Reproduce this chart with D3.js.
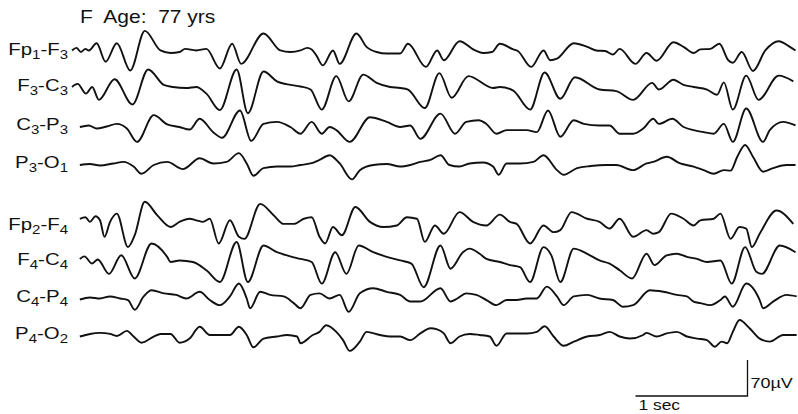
<!DOCTYPE html>
<html>
<head>
<meta charset="utf-8">
<script src="https://cdn.jsdelivr.net/npm/d3@7"></script>
<style>
  body { margin: 0; background: #fff; }
  svg { display: block; font-family: "Liberation Sans", Arial, sans-serif; }
</style>
</head>
<body>
<svg width="798" height="414"></svg>
<script>
// time in sec, amplitude in uV (positive = up)
var fp1F3 = [[0.00,3],[0.04,8],[0.08,0],[0.12,6],[0.15,3],[0.22,17],[0.30,-19],[0.40,17],[0.52,-36],[0.65,41],
  [0.79,3],[0.88,-2],[0.96,0],[1.01,6],[1.11,3],[1.20,6],[1.32,-32],[1.43,16],[1.51,-23],[1.71,36],
  [1.86,3],[1.95,0],[2.04,3],[2.10,8],[2.14,5],[2.18,-6],[2.24,-26],[2.33,3],[2.39,-23],[2.54,36],
  [2.63,10],[2.72,0],[2.81,-3],[2.93,-3],[3.00,16],[3.16,-29],[3.26,3],[3.32,-16],[3.46,21],[3.60,3],
  [3.67,-2],[3.75,0],[3.82,16],[3.94,5],[3.98,2],[4.10,-29],[4.21,3],[4.27,-16],[4.33,-13],[4.48,17],
  [4.60,10],[4.68,3],[4.76,2],[4.83,-5],[4.89,6],[5.03,-23],[5.13,-2],[5.22,-17],[5.37,19],[5.46,10],
  [5.55,-2],[5.61,5],[5.70,6],[5.78,16],[5.86,-16],[5.90,-21],[5.98,0],[6.08,-37],[6.19,3],[6.31,21],
  [6.41,10],[6.46,3]];

var f3C3 = [[0.00,2],[0.05,8],[0.125,-11],[0.18,2],[0.24,-23],[0.38,17],[0.54,-32],[0.68,36],[0.82,6],[0.90,2],
  [1.02,0],[1.11,2],[1.20,-11],[1.32,-43],[1.47,36],[1.57,-49],[1.71,32],[1.83,13],[1.95,6],[2.04,3],
  [2.13,-3],[2.23,-42],[2.36,23],[2.47,-26],[2.60,26],[2.72,10],[2.84,2],[2.93,0],[3.00,-3],[3.15,-39],
  [3.28,29],[3.39,-19],[3.54,23],[3.76,0],[3.82,2],[3.94,-5],[4.09,-42],[4.22,30],[4.36,-21],[4.49,21],
  [4.71,-3],[4.86,-6],[5.01,-23],[5.18,10],[5.24,-3],[5.37,16],[5.46,6],[5.55,2],[5.67,-3],[5.76,-13],
  [5.82,11],[5.90,-42],[6.02,24],[6.13,-23],[6.31,24],[6.44,13]];

var c3P3 = [[0.07,0],[0.15,3],[0.22,-3],[0.31,1],[0.40,6],[0.49,-3],[0.58,-29],[0.73,23],[0.85,5],[0.96,0],
  [1.05,-5],[1.14,16],[1.26,-10],[1.34,-21],[1.50,32],[1.60,-27],[1.71,6],[1.83,10],[1.95,0],[2.04,-13],
  [2.14,10],[2.23,-13],[2.30,0],[2.36,-6],[2.48,-29],[2.66,19],[2.81,10],[2.93,0],[3.02,3],[3.11,-23],
  [3.29,26],[3.42,-13],[3.52,10],[3.63,13],[3.70,6],[3.79,-13],[3.88,-6],[4.06,-6],[4.15,-10],[4.25,32],
  [4.36,-19],[4.48,13],[4.57,6],[4.71,3],[4.80,3],[4.89,-13],[5.01,-13],[5.10,-3],[5.19,16],[5.24,6],
  [5.36,16],[5.46,0],[5.55,-6],[5.64,-10],[5.73,-13],[5.82,6],[5.90,-29],[6.02,36],[6.17,-29],[6.23,-6],
  [6.35,10],[6.46,3]];

var p3O1 = [[0.07,0],[0.16,2],[0.25,-1],[0.37,3],[0.46,6],[0.55,-3],[0.62,-17],[0.73,0],[0.85,6],[0.99,-8],
  [1.14,13],[1.26,3],[1.38,6],[1.49,23],[1.56,3],[1.62,-21],[1.71,-6],[1.83,-3],[1.95,-3],[2.04,0],
  [2.13,3],[2.21,10],[2.30,19],[2.39,3],[2.50,-28],[2.57,-10],[2.69,0],[2.81,2],[2.93,-3],[3.02,0],
  [3.11,6],[3.20,10],[3.29,19],[3.37,0],[3.46,-3],[3.55,3],[3.67,5],[3.76,-3],[3.81,-19],[3.88,3],
  [4.00,3],[4.12,6],[4.21,19],[4.33,-10],[4.39,-19],[4.51,-6],[4.63,-2],[4.77,0],[4.86,0],[5.01,-10],
  [5.13,3],[5.19,6],[5.31,16],[5.43,3],[5.55,-3],[5.64,-10],[5.73,-17],[5.82,-10],[5.88,-11],[5.94,16],
  [6.01,39],[6.08,16],[6.17,-13],[6.26,-6],[6.38,0],[6.46,0]];

var fp2F4 = [[0.07,16],[0.12,19],[0.16,10],[0.21,21],[0.25,13],[0.29,-19],[0.34,10],[0.40,26],[0.50,-39],[0.56,-16],
  [0.65,49],[0.76,23],[0.88,0],[0.96,10],[1.05,16],[1.11,13],[1.17,10],[1.23,16],[1.31,-32],[1.41,13],
  [1.49,-19],[1.54,-23],[1.68,45],[1.80,23],[1.89,6],[1.98,6],[2.07,16],[2.14,19],[2.21,-19],[2.26,-32],
  [2.33,0],[2.41,-16],[2.53,39],[2.66,10],[2.78,0],[2.90,3],[2.99,19],[3.08,16],[3.15,-29],[3.24,3],
  [3.32,-13],[3.46,29],[3.58,10],[3.70,3],[3.82,24],[3.91,10],[3.97,6],[4.09,-32],[4.21,3],[4.30,-10],
  [4.36,-6],[4.46,29],[4.60,16],[4.71,10],[4.80,-3],[4.89,16],[5.01,-19],[5.13,-6],[5.19,-13],[5.24,-10],
  [5.35,26],[5.46,16],[5.55,3],[5.61,13],[5.73,16],[5.79,26],[5.88,-23],[5.96,0],[6.02,-3],[6.07,-39],
  [6.14,-13],[6.29,32],[6.44,6]];

var f4C4 = [[0.07,6],[0.11,11],[0.18,-3],[0.23,5],[0.33,-23],[0.44,13],[0.56,-32],[0.71,36],[0.85,10],[0.88,0],
  [0.96,3],[1.08,0],[1.20,-16],[1.32,-39],[1.47,39],[1.57,-39],[1.71,32],[1.83,19],[1.95,11],[2.04,6],
  [2.14,0],[2.23,-42],[2.35,19],[2.45,-23],[2.56,32],[2.69,19],[2.81,10],[2.93,3],[3.03,-3],[3.14,-49],
  [3.29,32],[3.38,-13],[3.49,19],[3.55,26],[3.64,16],[3.70,6],[3.82,0],[3.91,-6],[4.00,-10],[4.09,-39],
  [4.21,29],[4.28,13],[4.36,-39],[4.48,26],[4.60,16],[4.71,3],[4.80,-3],[4.89,-16],[5.00,-32],[5.13,16],
  [5.20,-6],[5.31,13],[5.40,16],[5.49,10],[5.58,6],[5.67,0],[5.79,3],[5.89,-42],[6.01,29],[6.11,-19],
  [6.16,-23],[6.32,32],[6.46,19]];

var c4P4 = [[0.07,-1],[0.16,3],[0.25,1],[0.34,5],[0.43,1],[0.50,-2],[0.56,-21],[0.64,5],[0.71,17],[0.82,11],
  [0.93,8],[1.02,1],[1.14,14],[1.23,-2],[1.32,-12],[1.41,5],[1.49,30],[1.56,1],[1.59,-18],[1.68,14],
  [1.77,8],[1.89,5],[1.98,-8],[2.04,-18],[2.13,8],[2.21,11],[2.30,1],[2.39,8],[2.47,-25],[2.57,11],
  [2.69,21],[2.81,14],[2.93,8],[3.02,-5],[3.11,-5],[3.29,21],[3.38,-5],[3.44,1],[3.52,11],[3.61,8],
  [3.70,-2],[3.79,-12],[3.88,-2],[3.97,-2],[4.06,1],[4.15,1],[4.24,24],[4.33,5],[4.39,-12],[4.48,5],
  [4.60,8],[4.71,1],[4.83,-2],[4.92,-15],[5.01,-12],[5.16,17],[5.28,14],[5.40,8],[5.49,5],[5.55,-5],
  [5.61,-8],[5.70,-12],[5.79,-2],[5.83,5],[5.90,-15],[6.02,30],[6.14,-2],[6.17,-18],[6.26,-5],[6.38,8],
  [6.47,5]];

var p4O2 = [[0.07,-1],[0.16,4],[0.25,6],[0.34,4],[0.40,0],[0.49,10],[0.55,-1],[0.62,-13],[0.73,-1],[0.79,4],
  [0.88,4],[0.96,-13],[1.05,-5],[1.14,18],[1.23,2],[1.32,2],[1.41,2],[1.49,18],[1.56,2],[1.62,-22],
  [1.71,-5],[1.83,-1],[1.92,2],[2.01,-1],[2.04,-14],[2.15,2],[2.21,8],[2.27,21],[2.36,8],[2.42,-8],
  [2.48,-29],[2.57,-11],[2.63,8],[2.75,2],[2.84,-1],[2.93,-1],[3.02,-8],[3.11,5],[3.20,15],[3.26,13],
  [3.32,5],[3.38,-14],[3.46,-1],[3.55,4],[3.64,2],[3.73,-1],[3.79,-19],[3.88,5],[3.97,5],[4.06,5],
  [4.15,8],[4.22,19],[4.30,-1],[4.39,-19],[4.48,-11],[4.60,-1],[4.71,2],[4.80,8],[4.89,-1],[4.98,-5],
  [5.10,2],[5.13,6],[5.22,-1],[5.31,5],[5.40,8],[5.49,-1],[5.58,-5],[5.67,-8],[5.74,-21],[5.80,-11],
  [5.85,-14],[5.90,8],[5.96,31],[6.05,15],[6.14,-5],[6.23,-11],[6.35,2],[6.47,2]];

var channelNames = ["Fp1-F3", "F3-C3", "C3-P3", "P3-O1", "Fp2-F4", "F4-C4", "C4-P4", "P4-O2"];
var channelData = [fp1F3, f3C3, c3P3, p3O1, fp2F4, f4C4, c4P4, p4O2];
var baselines = [52, 88, 127, 165, 227, 262, 299, 336];

var title = "F  Age:  77 yrs";
var scaleTime = 1;      // sec
var scaleVolt = 70;     // uV

var svg = d3.select("svg");

var x = d3.scaleLinear().domain([0, 1]).range([72, 184]);
var amp = d3.scaleLinear().domain([0, 70]).range([0, -36]);

// the scanned lettering is wider than the font, stretch it a bit
var stretch = "scale(1.2,1)";

svg.append("text")
    .attr("transform", "translate(80,23) " + stretch)
    .attr("font-size", 17.5)
    .attr("fill", "#111")
    .style("white-space", "pre")
    .text(title);

var line = d3.line()
    .x(function(d) { return x(d[0]); })
    .y(function(d) { return amp(d[1]); })
    .curve(d3.curveMonotoneX);

var ch = svg.selectAll("g.ch")
    .data(channelData)
    .enter().append("g")
    .attr("class", "ch")
    .attr("transform", function(d, i) { return "translate(0," + baselines[i] + ")"; });

ch.append("path")
    .attr("d", line)
    .attr("fill", "none")
    .attr("stroke", "#111")
    .attr("stroke-width", 1.9)
    .attr("stroke-linejoin", "round");

// labels, digits as subscripts
ch.append("text")
    .attr("transform", "translate(68,3) " + stretch)
    .attr("text-anchor", "end")
    .attr("font-size", 17)
    .attr("fill", "#111")
    .each(function(d, i) {
      var t = d3.select(this);
      var parts = channelNames[i].match(/\d+|\D+/g);
      parts.forEach(function(p, k) {
        if (/\d/.test(p)) {
          t.append("tspan").attr("font-size", 12.5).attr("dy", 4).text(p);
        } else {
          t.append("tspan").attr("dy", k ? -4 : 0).text(p);
        }
      });
    });

// calibration bar
var barX = 747.5, barY = 396;
var barW = x(scaleTime) - x(0);
var barH = -amp(scaleVolt);
svg.append("path")
    .attr("d", "M" + (barX - barW) + "," + barY + "H" + barX + "V" + (barY - barH))
    .attr("fill", "none")
    .attr("stroke", "#111")
    .attr("stroke-width", 1.3);

svg.append("text")
    .attr("transform", "translate(" + (barX + 3) + "," + (barY - 8) + ") " + stretch)
    .attr("font-size", 15)
    .attr("fill", "#111")
    .text(scaleVolt + "\u00b5V");

svg.append("text")
    .attr("transform", "translate(" + (barX - barW + 3) + "," + (barY + 14) + ") " + stretch)
    .attr("font-size", 14.5)
    .attr("fill", "#111")
    .text(scaleTime + " sec");
</script>
</body>
</html>
